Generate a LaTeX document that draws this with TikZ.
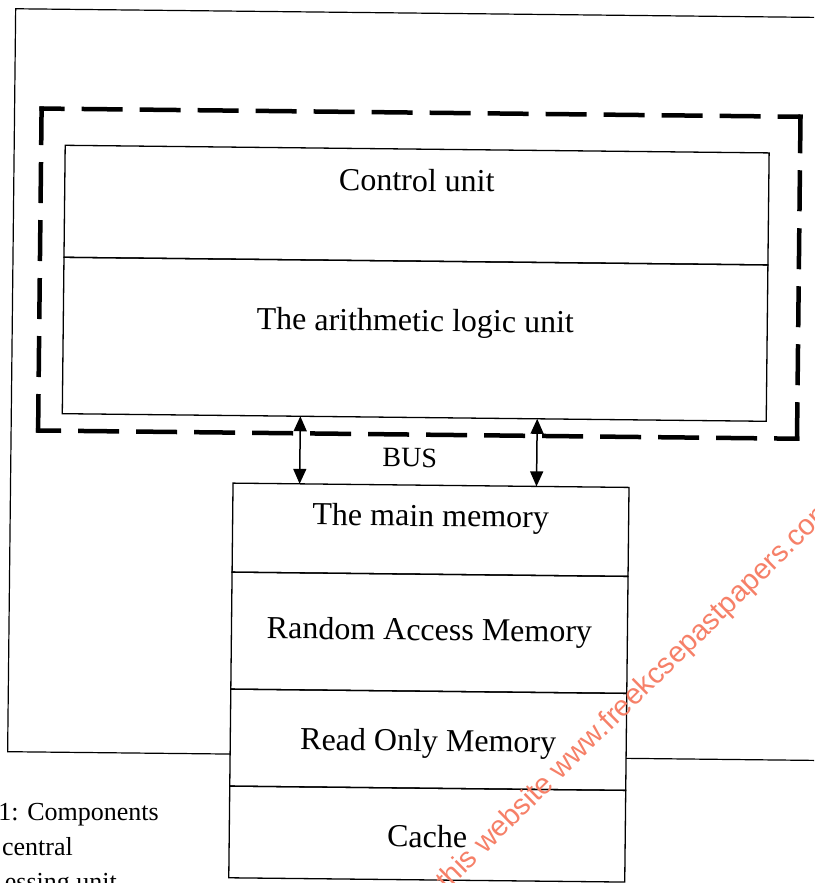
\documentclass[tikz,border=0pt]{standalone}
\usepackage{fontspec}
\setmainfont{Liberation Serif}
\newfontfamily\wmfont{Liberation Sans}
\usetikzlibrary{arrows.meta,calc}
\definecolor{wmcol}{RGB}{246,128,104}
\begin{document}
\begin{tikzpicture}[x=1pt,y=-1pt,
  box/.style={draw, line width=1.3pt, inner sep=0pt, outer sep=0pt, minimum width=#1},
  frame/.style={line width=1.2pt},
  dashside/.style={line width=4.5pt, line cap=rect, dash pattern=on 36.5pt off 21.5pt},
  lbl/.style={font=\fontsize{32}{38}\selectfont, inner sep=0pt, anchor=base},
  buslbl/.style={font=\fontsize{28}{34}\selectfont, inner sep=0pt, anchor=base},
  captxt/.style={font=\fontsize{26}{31}\selectfont, inner sep=0pt, anchor=base east},
  bus/.style={line width=1.5pt, {Triangle[length=15pt,width=13pt]}-{Triangle[length=15pt,width=13pt]}},
  wm/.style={font=\wmfont\fontsize{29}{34}\selectfont, text=wmcol, inner sep=0pt, anchor=base west}]
\useasboundingbox (0,0) rectangle (814,883);
\clip (0,0) rectangle (814,883);
\fill[white] (0,0) rectangle (814,883);
\begin{scope}[rotate around={-0.62:(407,441)}, transform shape]
  % CPU boxes
  \node[box=704pt, minimum height=112pt] (cu) at (414,205) {};
  \node[box=704pt, minimum height=156.4pt] (alu) at (414,339.2) {};
  % memory boxes
  \node[box=396pt, minimum height=89pt] (mm) at (431.5,529.5) {};
  \node[box=396pt, minimum height=117pt] (ram) at (431.5,632.5) {};
  \node[box=396pt, minimum height=97pt] (rom) at (431.5,739.5) {};
  \node[box=396pt, minimum height=91.7pt] (cache) at (431.5,833.85) {};
  % outer frame
  \coordinate (obl) at ($(rom.north west)!0.67!(rom.south west)$);
  \coordinate (obr) at ($(rom.north east)!0.67!(rom.south east)$);
  \draw[frame] (obl) -- (11,756) -- (11,13) -- (860,13) -- (860,756) -- (obr);
  % dashed CPU boundary
  \coordinate (d1) at (38,112.5);
  \coordinate (d2) at (797,112.5);
  \coordinate (d3) at (797,434.5);
  \coordinate (d4) at (38,434.5);
  \draw[dashside, dash phase=15.75pt] (d1) -- (d2);
  \draw[dashside, dash phase=2.25pt] (d2) -- (d3);
  \draw[dashside, dash phase=15.75pt] (d3) -- (d4);
  \draw[dashside, dash phase=2.25pt] (d4) -- (d1);
  % labels
  \node[lbl] (tcu) at (414,191) {Control unit};
  \node[lbl] (talu) at (414,331) {The arithmetic logic unit};
  \node[buslbl] (tbus) at (410,467) {BUS};
  \node[lbl] (tmm) at (431.5,526) {The main memory};
  \node[lbl] (tram) at (431.5,640) {Random Access Memory};
  \node[lbl] (trom) at (431.5,751) {Read Only Memory};
  \node[lbl] (tcache) at (431.5,847) {Cache};
  % bus arrows
  \draw[bus] ($(alu.south west)!{(300.1-62)/704}!(alu.south east)$) -- ($(mm.north west)!{(300.1-233.5)/396}!(mm.north east)$);
  \draw[bus] ($(alu.south west)!{(537-62)/704}!(alu.south east)$) -- ($(mm.north west)!{(537-233.5)/396}!(mm.north east)$);
\end{scope}
% caption fragments
\node[captxt] (c1) at (159,820) {1: Components};
\node[captxt] (c2) at (73,855) {central};
\node[captxt] (c3) at (117,890) {essing unit};
% watermark
\node[wm, rotate=44.5] (wmk) at (447,892) {this website www.freekcsepastpapers.com};
\end{tikzpicture}
\end{document}
